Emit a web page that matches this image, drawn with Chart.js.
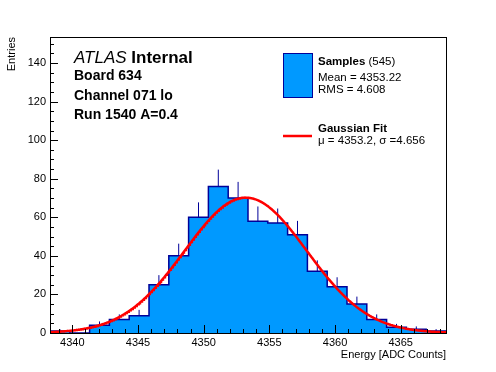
<!DOCTYPE html>
<html>
<head>
<meta charset="utf-8">
<script src="https://cdn.jsdelivr.net/npm/chart.js@4"></script>
<style>
  html, body { margin: 0; padding: 0; background: #fff; }
</style>
</head>
<body>
<canvas id="histo" width="496" height="372"></canvas>
<script>
// histogram binning and contents
const xMin = 4338.3;
const binWidth = 1.5075;
const counts = [1, 0, 4, 7, 9, 25, 40, 60, 76, 70, 58, 57, 51, 32, 24, 15, 7, 3, 2, 1];

// gaussian fit parameters (from the legend)
const fitMean = 4353.2;
const fitSigma = 4.656;
const fitAmp = 70.2;

// axes
const xTicks = [4340, 4345, 4350, 4355, 4360, 4365];
const yTicks = [0, 20, 40, 60, 80, 100, 120, 140];
const yMax = 153.5;
const xMax = xMin + counts.length * binWidth;

const fillBlue = 'rgb(0, 153, 255)';
const darkBlue = '#000099';
const font = 'Liberation Sans';

// step outline points at bin edges
const histPoints = counts.map((c, i) => ({ x: xMin + i * binWidth, y: c }));
histPoints.push({ x: xMax, y: counts[counts.length - 1] });

// upper error bars, sqrt(N)
const errPoints = [];
counts.forEach((c, i) => {
    if (c <= 0) return;
    const xc = xMin + (i + 0.5) * binWidth;
    errPoints.push({ x: xc, y: c }, { x: xc, y: c + Math.sqrt(c) }, { x: xc, y: null });
});

// fit function evaluated over the axis range
const fitPoints = [];
for (let x = xMin; x <= xMax + 1e-9; x += 0.05) {
    const z = (x - fitMean) / fitSigma;
    fitPoints.push({ x: x, y: fitAmp * Math.exp(-0.5 * z * z) });
}

const decorations = {
    id: 'decorations',
    afterDatasetsDraw(chart) {
        const { ctx, chartArea: a, scales } = chart;
        ctx.save();
        ctx.strokeStyle = '#000';
        ctx.lineWidth = 1;
        // tick marks, inward
        ctx.beginPath();
        for (let v = 0; v <= yMax; v += 5) {
            const y = Math.round(scales.y.getPixelForValue(v)) + 0.5;
            const len = v % 20 === 0 ? 8 : 4;
            ctx.moveTo(a.left, y);
            ctx.lineTo(a.left + len, y);
        }
        for (let v = Math.ceil(xMin); v <= xMax; v += 1) {
            const x = Math.round(scales.x.getPixelForValue(v)) + 0.5;
            const len = v % 5 === 0 ? 8 : 4;
            ctx.moveTo(x, a.bottom);
            ctx.lineTo(x, a.bottom - len);
        }
        ctx.stroke();
        // frame
        ctx.strokeRect(a.left + 0.5, a.top + 0.5, a.right - a.left, a.bottom - a.top);
        ctx.restore();
    },
    afterDraw(chart) {
        const { ctx, chartArea: a } = chart;
        ctx.save();
        ctx.fillStyle = '#000';
        ctx.textBaseline = 'middle';
        ctx.textAlign = 'left';

        // ATLAS label
        ctx.font = 'italic 17px "' + font + '"';
        ctx.fillText('ATLAS', 74, 58);
        const w = ctx.measureText('ATLAS ').width;
        ctx.font = 'bold 17px "' + font + '"';
        ctx.fillText('Internal', 74 + w, 58);
        ctx.font = 'bold 14px "' + font + '"';
        ctx.fillText('Board 634', 74, 76);
        ctx.fillText('Channel 071 lo', 74, 96);
        ctx.fillText('Run 1540 A=0.4', 74, 115);

        // legend
        ctx.fillStyle = fillBlue;
        ctx.fillRect(283, 53, 29, 44);
        ctx.strokeStyle = darkBlue;
        ctx.lineWidth = 1;
        ctx.strokeRect(283.5, 53.5, 29, 44);
        ctx.strokeStyle = '#ff0000';
        ctx.lineWidth = 2.5;
        ctx.beginPath();
        ctx.moveTo(283, 136);
        ctx.lineTo(312, 136);
        ctx.stroke();

        ctx.fillStyle = '#000';
        ctx.font = 'bold 11.5px "' + font + '"';
        ctx.fillText('Samples', 318, 62);
        const sw = ctx.measureText('Samples ').width;
        ctx.font = '11.5px "' + font + '"';
        ctx.fillText('(545)', 318 + sw, 62);
        ctx.fillText('Mean = 4353.22', 318, 78);
        ctx.fillText('RMS = 4.608', 318, 90);
        ctx.font = 'bold 11.5px "' + font + '"';
        ctx.fillText('Gaussian Fit', 318, 129);
        ctx.font = '11.5px "' + font + '"';
        ctx.fillText('\u03bc = 4353.2, \u03c3 =4.656', 318, 141);

        // axis titles
        ctx.font = '11px "' + font + '"';
        ctx.textAlign = 'right';
        ctx.fillText('Energy [ADC Counts]', a.right, 355);
        ctx.translate(12, a.top);
        ctx.rotate(-Math.PI / 2);
        ctx.fillText('Entries', 0, 0);
        ctx.restore();
    }
};

const ctx = document.getElementById('histo').getContext('2d');
const histo = new Chart(ctx, {
    type: 'line',
    data: {
        datasets: [
            {
                label: 'Gaussian Fit',
                data: fitPoints,
                borderColor: '#ff0000',
                borderWidth: 2.5,
                pointRadius: 0,
                tension: 0,
                order: 0
            },
            {
                label: 'errors',
                data: errPoints,
                borderColor: darkBlue,
                borderWidth: 1,
                pointRadius: 0,
                spanGaps: false,
                order: 1
            },
            {
                label: 'Samples',
                data: histPoints,
                stepped: 'before',
                fill: 'origin',
                backgroundColor: fillBlue,
                borderColor: darkBlue,
                borderWidth: 1.5,
                pointRadius: 0,
                order: 2
            }
        ]
    },
    options: {
        responsive: false,
        animation: false,
        events: [],
        layout: { padding: { left: 0, top: 37, right: 50, bottom: 0 } },
        plugins: {
            legend: { display: false },
            tooltip: { enabled: false }
        },
        scales: {
            x: {
                type: 'linear',
                min: xMin,
                max: xMax,
                afterBuildTicks: s => { s.ticks = xTicks.map(v => ({ value: v })); },
                afterFit: s => { s.height = 39; },
                grid: { display: false, drawTicks: false },
                border: { display: false },
                ticks: {
                    color: '#000', font: { family: font, size: 11 }, padding: 3,
                    maxRotation: 0, autoSkip: false,
                    callback: v => String(v)
                }
            },
            y: {
                type: 'linear',
                min: 0,
                max: yMax,
                afterBuildTicks: s => { s.ticks = yTicks.map(v => ({ value: v })); },
                afterFit: s => { s.width = 50; },
                grid: { display: false, drawTicks: false },
                border: { display: false },
                ticks: { color: '#000', font: { family: font, size: 11 }, padding: 4, autoSkip: false }
            }
        }
    },
    plugins: [decorations]
});
</script>
</body>
</html>
